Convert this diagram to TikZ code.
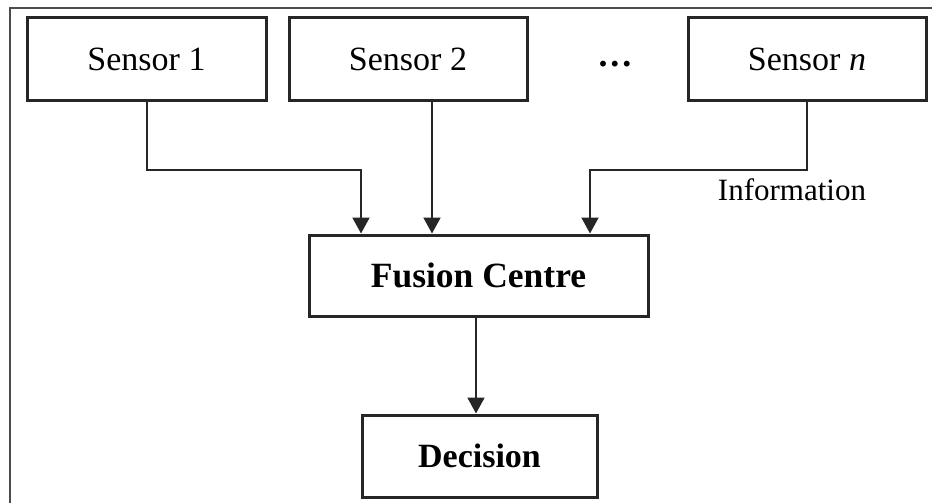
\documentclass[tikz,border=0pt]{standalone}
\usepackage{fontspec}
\setmainfont{Liberation Serif}
\usetikzlibrary{arrows.meta}
\begin{document}
\begin{tikzpicture}[x=1pt,y=-1pt,
  box/.style={draw=black!85, line width=3pt, fill=white, inner sep=0pt, font=\fontsize{34}{40}\selectfont},
  conn/.style={draw=black!85, line width=2pt, -{Triangle[width=17pt,length=16pt]}},
  lbl/.style={inner sep=0pt, font=\fontsize{31}{36}\selectfont}]
\useasboundingbox (0,0) rectangle (932,503);
\draw[black!70, line width=2pt] (10,503) -- (10,8) -- (932,8);
\node[box, minimum width=239pt, minimum height=82pt] (s1) at (146.5,59) {Sensor 1};
\node[box, minimum width=238pt, minimum height=82pt] (s2) at (408,59) {Sensor 2};
\node[lbl, font=\fontsize{36}{40}\selectfont\bfseries] (dots) at (615,64) {.\kern3pt.\kern3pt.};
\node[box, minimum width=238pt, minimum height=82pt] (sn) at (807,59) {Sensor \textit{n}};
\node[box, minimum width=339pt, minimum height=81pt, font=\fontsize{35.5}{40}\selectfont\bfseries] (fc) at (478.5,275.5) {Fusion Centre};
\node[box, minimum width=235pt, minimum height=82pt, font=\fontsize{34}{40}\selectfont\bfseries] (dec) at (479.5,456) {Decision};
\node[lbl] (info) at (792,190) {Information};
\coordinate (j1) at (361,170);
\coordinate (jn) at (590,170);
\coordinate (x2) at (432,0);
\coordinate (xd) at (476,0);
\draw[conn] (s1.south) |- (j1) -- (j1 |- fc.north);
\draw[conn] (s2.south -| x2) -- (fc.north -| x2);
\draw[conn] (sn.south) |- (jn) -- (jn |- fc.north);
\draw[conn] (fc.south -| xd) -- (dec.north -| xd);
\end{tikzpicture}
\end{document}
